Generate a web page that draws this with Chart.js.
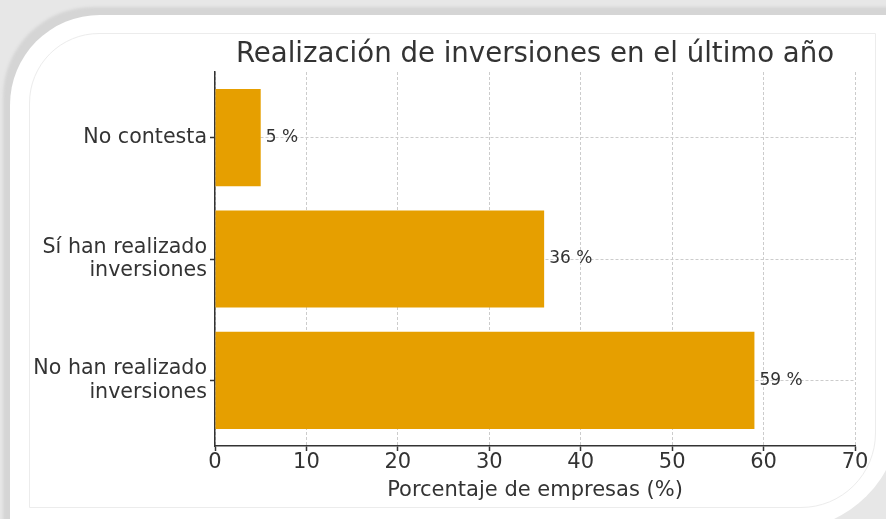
<!DOCTYPE html>
<html>
<head>
<meta charset="utf-8">
<script src="https://cdn.jsdelivr.net/npm/chart.js@4"></script>
<style>
  html, body { margin: 0; padding: 0; }
  body {
    width: 886px; height: 519px; overflow: hidden; position: relative;
    background: #e7e7e7;
    font-family: "DejaVu Sans", sans-serif;
  }
  .card {
    position: absolute; left: 10px; top: 15px; width: 890px; height: 515px;
    background: #fff;
    border-radius: 90px 0 115px 0;
    box-shadow: -7px -8px 3px 0 #d5d5d5;
  }
  .inner {
    position: absolute; left: 29px; top: 33px; width: 845px; height: 473px;
    border: 1px solid #ececec;
    border-radius: 70px 0 75px 0;
  }
  #wrap { position: absolute; left: 0; top: 0; width: 886px; height: 519px; }
</style>
</head>
<body>
<div class="card"></div>
<div class="inner"></div>
<div id="wrap"><canvas id="invChart"></canvas></div>
<script>
// ===== Data =====
const categories = [['No han realizado', 'inversiones'], ['Sí han realizado', 'inversiones'], 'No contesta'];
const values = [59, 36, 5];
const xTicks = [0, 10, 20, 30, 40, 50, 60, 70];
const chartTitle = 'Realización de inversiones en el último año';
const xTitle = 'Porcentaje de empresas (%)';

const textColor = '#333333';
const font = 'DejaVu Sans';

// ===== Value labels at the end of each bar =====
const barLabels = {
  id: 'barLabels',
  afterDatasetsDraw(chart) {
    const ctx = chart.ctx;
    const meta = chart.getDatasetMeta(0);
    ctx.save();
    ctx.font = '17px "' + font + '"';
    ctx.fillStyle = textColor;
    ctx.textAlign = 'left';
    ctx.textBaseline = 'middle';
    meta.data.forEach((bar, i) => {
      ctx.fillText(values[i] + ' %', bar.x + 5, bar.y);
    });
    ctx.restore();
  }
};

// ===== Title centred over the plot area =====
const plotTitle = {
  id: 'plotTitle',
  afterDraw(chart) {
    const ctx = chart.ctx;
    const a = chart.chartArea;
    ctx.save();
    ctx.font = '27.6px "' + font + '"';
    ctx.fillStyle = textColor;
    ctx.textAlign = 'center';
    ctx.textBaseline = 'alphabetic';
    ctx.fillText(chartTitle, (a.left + a.right) / 2, 62);
    ctx.restore();
  }
};

const ctx = document.getElementById('invChart').getContext('2d');
new Chart(ctx, {
  type: 'bar',
  data: {
    datasets: [{
      data: values.map((v, i) => ({ x: v, y: i })),
      backgroundColor: '#E69F00',
      barPercentage: 0.8,
      categoryPercentage: 1
    }]
  },
  options: {
    indexAxis: 'y',
    responsive: true,
    maintainAspectRatio: false,
    animation: false,
    layout: { padding: { left: 0, right: 31, top: 72, bottom: 0 } },
    plugins: {
      legend: { display: false },
      tooltip: { enabled: false },
      title: { display: false }
    },
    scales: {
      x: {
        type: 'linear',
        min: 0,
        max: 70,
        afterFit: s => { s.height = 73; },
        afterBuildTicks: s => { s.ticks = xTicks.map(v => ({ value: v })); },
        ticks: { color: textColor, font: { family: font, size: 21 }, padding: -1 },
        grid: { color: '#cccccc', lineWidth: 1, tickLength: 5, tickColor: textColor, tickWidth: 1.5, tickBorderDash: [] },
        border: { display: true, color: textColor, width: 1.5, dash: [3, 2] },
        title: { display: true, text: xTitle, color: textColor, font: { family: font, size: 21 }, padding: { top: 0, bottom: 16 } }
      },
      y: {
        type: 'linear',
        min: -0.54,
        max: 2.54,
        offset: false,
        afterFit: s => { s.width = 215; },
        afterBuildTicks: s => { s.ticks = values.map((v, i) => ({ value: i })); },
        ticks: {
          color: textColor,
          font: { family: font, size: 20.6, lineHeight: '23.5px' },
          padding: 3,
          callback: v => categories[v]
        },
        grid: { offset: false, color: '#cccccc', lineWidth: 1, tickLength: 5, tickColor: textColor, tickWidth: 1.5, tickBorderDash: [] },
        border: { display: true, color: textColor, width: 1.5, dash: [3, 2] }
      }
    }
  },
  plugins: [barLabels, plotTitle]
});
</script>
</body>
</html>
